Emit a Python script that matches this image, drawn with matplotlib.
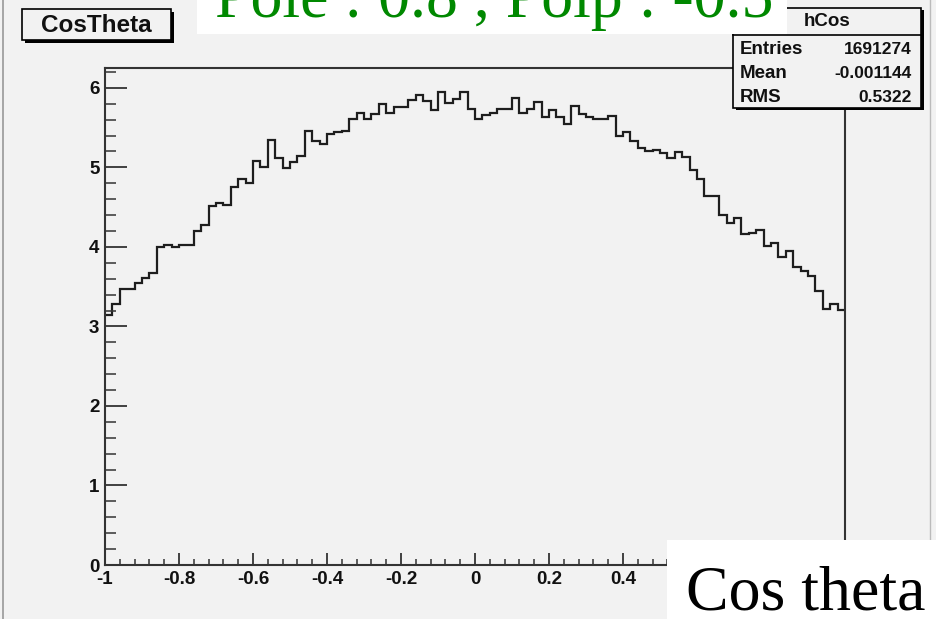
import numpy as np
import matplotlib
matplotlib.use("Agg")
import matplotlib.pyplot as plt
from matplotlib.patches import Rectangle
from matplotlib.lines import Line2D
from matplotlib.ticker import FixedLocator, MultipleLocator, FixedFormatter

# ---- data ----
bin_edges = np.linspace(-1.0, 1.0, 101)
counts = [3.14, 3.28, 3.47, 3.47, 3.54, 3.61, 3.67, 4.00, 4.03, 4.00,
          4.03, 4.03, 4.20, 4.28, 4.51, 4.55, 4.53, 4.75, 4.85, 4.81,
          5.08, 5.01, 5.34, 5.12, 4.99, 5.07, 5.14, 5.46, 5.33, 5.30,
          5.42, 5.44, 5.46, 5.61, 5.69, 5.61, 5.67, 5.80, 5.69, 5.76,
          5.76, 5.85, 5.91, 5.84, 5.72, 5.95, 5.81, 5.86, 5.95, 5.73,
          5.61, 5.66, 5.69, 5.73, 5.74, 5.87, 5.69, 5.73, 5.82, 5.64,
          5.72, 5.64, 5.55, 5.77, 5.67, 5.63, 5.61, 5.61, 5.65, 5.39,
          5.44, 5.33, 5.24, 5.21, 5.22, 5.18, 5.12, 5.19, 5.13, 4.97,
          4.86, 4.64, 4.64, 4.40, 4.30, 4.36, 4.16, 4.18, 4.21, 4.01,
          4.05, 3.87, 3.95, 3.75, 3.70, 3.63, 3.45, 3.22, 3.28, 3.21]
x_ticks = [-1, -0.8, -0.6, -0.4, -0.2, 0, 0.2, 0.4, 0.6, 0.8, 1]
# labels for 0.6, 0.8 and 1 are hidden behind the "Cos theta" box in the reference
x_tick_labels = ['-1', '-0.8', '-0.6', '-0.4', '-0.2', '0', '0.2', '0.4', '', '', '']
y_ticks = [0, 1, 2, 3, 4, 5, 6]
y_tick_labels = ['0', '1', '2', '3', '4', '5', '6']
title_text = "CosTheta"
overlay_text = "Pole : 0.8 , Polp : -0.5"
xlabel_text = "Cos theta"
stats_name = "hCos"
stats_rows = [("Entries", "1691274"), ("Mean", "-0.001144"), ("RMS", "0.5322")]

W, H = 936, 619
BG = '#f2f2f2'
fig = plt.figure(figsize=(W / 100, H / 100), dpi=100, facecolor=BG)

def fx(x):
    return x / W

def fy(y):
    return 1 - y / H

# ---- main axes ----
ax = fig.add_axes([fx(105), fy(565), (845 - 105) / W, (565 - 68) / H])
ax.set_facecolor(BG)
ax.stairs(counts, bin_edges, baseline=None, color='#1e1e1e', lw=1.6)
ax.set_xlim(-1, 1)
ax.set_ylim(0, 6.25)
for s in ax.spines.values():
    s.set_color('#333333')
    s.set_linewidth(1.5)

ax.xaxis.set_major_locator(FixedLocator(x_ticks))
ax.xaxis.set_major_formatter(FixedFormatter(x_tick_labels))
ax.xaxis.set_minor_locator(MultipleLocator(0.04))
ax.yaxis.set_major_locator(FixedLocator(y_ticks))
ax.yaxis.set_major_formatter(FixedFormatter(y_tick_labels))
ax.yaxis.set_minor_locator(MultipleLocator(0.2))

ax.tick_params(axis='x', which='major', direction='in', length=9.0, width=1.3,
               color='#333333', pad=4, top=False)
ax.tick_params(axis='x', which='minor', direction='in', length=4.5, width=1.1,
               color='#333333', top=False)
ax.tick_params(axis='y', which='major', direction='in', length=15.8, width=1.3,
               color='#333333', pad=4, right=False)
ax.tick_params(axis='y', which='minor', direction='in', length=7.9, width=1.1,
               color='#333333', right=False)
for lab in ax.get_xticklabels() + ax.get_yticklabels():
    lab.set_fontfamily('Liberation Sans')
    lab.set_fontweight('bold')
    lab.set_fontsize(13.5)
    lab.set_color('#111111')

# ---- canvas borders ----
fig.add_artist(Line2D([fx(3), fx(3)], [fy(0), fy(619)], color='#999999', lw=1.2,
                      transform=fig.transFigure, zorder=3))
fig.add_artist(Line2D([fx(930), fx(930)], [fy(0), fy(619)], color='#bbbbbb', lw=1.0,
                      transform=fig.transFigure, zorder=3))

def box(x0, y0, x1, y1, face, edge='black', lw=1.0, shadow=0, z=5):
    if shadow:
        fig.add_artist(Rectangle((fx(x0 + shadow), fy(y1 + shadow)),
                                 (x1 - x0) / W, (y1 - y0) / H,
                                 transform=fig.transFigure, facecolor='black',
                                 edgecolor='none', zorder=z))
    fig.add_artist(Rectangle((fx(x0), fy(y1)), (x1 - x0) / W, (y1 - y0) / H,
                             transform=fig.transFigure, facecolor=face,
                             edgecolor=edge, lw=lw, zorder=z + 0.1))

# ---- title box ----
box(22, 9, 171, 40, BG, lw=1.2, shadow=2.5, z=5)
fig.text(fx(96.5), fy(25), title_text, ha='center', va='center',
         family='Liberation Sans', weight='bold', size=17.5, color='#111111', zorder=6)

# ---- stats box ----
box(733, 8, 921, 108, BG, lw=1.2, shadow=2.5, z=5)
fig.add_artist(Line2D([fx(733), fx(921)], [fy(35), fy(35)], color='black', lw=1.2,
                      transform=fig.transFigure, zorder=6))
fig.text(fx(827), fy(22), stats_name, ha='center', va='center',
         family='Liberation Sans', weight='bold', size=13.5, color='#111111', zorder=6)
for i, (k, v) in enumerate(stats_rows):
    yy = 49 + 24 * i
    fig.text(fx(740), fy(yy), k, ha='left', va='center', family='Liberation Sans',
             weight='bold', size=13.5, color='#111111', zorder=6)
    fig.text(fx(912), fy(yy), v, ha='right', va='center', family='Liberation Sans',
             weight='bold', size=12.5, color='#111111', zorder=6)

# ---- overlay white box with green text (clipped by top edge) ----
fig.add_artist(Rectangle((fx(197), fy(34)), (787 - 197) / W, 40 / H,
                         transform=fig.transFigure, facecolor='white',
                         edgecolor='none', zorder=8))
fig.text(fx(215), fy(17), overlay_text, ha='left', va='baseline',
         family='Liberation Serif', size=46, color='#008800', zorder=9)

# ---- x label white box ----
fig.add_artist(Rectangle((fx(667), fy(625)), (940 - 667) / W, (625 - 540) / H,
                         transform=fig.transFigure, facecolor='white',
                         edgecolor='none', zorder=8))
fig.text(fx(686), fy(610), xlabel_text, ha='left', va='baseline',
         family='Liberation Serif', size=46, color='black', zorder=9)

fig.savefig('out.png', dpi=100, facecolor=BG)
